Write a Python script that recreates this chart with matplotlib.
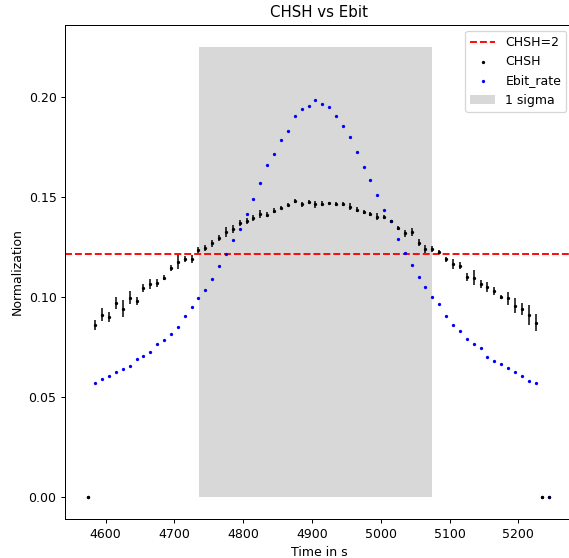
import numpy as np
import matplotlib
matplotlib.use("Agg")
import matplotlib.pyplot as plt

# time stamps (s), 10 s steps
time = np.arange(4575, 5246, 10)

chsh = [0.0,
        0.0861, 0.0911, 0.0900, 0.0968, 0.0941, 0.0995, 0.0980, 0.1045, 0.1064, 0.1070,
        0.1095, 0.1144, 0.1174, 0.1189, 0.1189, 0.1234, 0.1244, 0.1268, 0.1294, 0.1326,
        0.1341, 0.1370, 0.1380, 0.1395, 0.1413, 0.1411, 0.1431, 0.1446, 0.1462, 0.1480,
        0.1463, 0.1477, 0.1463, 0.1467, 0.1468, 0.1463, 0.1463, 0.1452, 0.1437, 0.1426,
        0.1413, 0.1401, 0.1400, 0.1378, 0.1346, 0.1318, 0.1326, 0.1271, 0.1239, 0.1239,
        0.1222, 0.1187, 0.1162, 0.1156, 0.1100, 0.1095, 0.1064, 0.1047, 0.1030, 0.1000,
        0.0992, 0.0955, 0.0938, 0.0908, 0.0871,
        0.0, 0.0]

chsh_err = [0.0,
            0.0025, 0.0033, 0.0025, 0.0030, 0.0042, 0.0033, 0.0020, 0.0020, 0.0025, 0.0020,
            0.0013, 0.0013, 0.0033, 0.0013, 0.0020, 0.0013, 0.0017, 0.0017, 0.0017, 0.0025,
            0.0020, 0.0017, 0.0013, 0.0013, 0.0020, 0.0013, 0.0013, 0.0008, 0.0007, 0.0010,
            0.0013, 0.0010, 0.0017, 0.0013, 0.0007, 0.0010, 0.0010, 0.0017, 0.0013, 0.0010,
            0.0010, 0.0017, 0.0010, 0.0008, 0.0010, 0.0017, 0.0020, 0.0017, 0.0020, 0.0017,
            0.0010, 0.0013, 0.0025, 0.0017, 0.0020, 0.0037, 0.0020, 0.0025, 0.0020, 0.0010,
            0.0033, 0.0037, 0.0030, 0.0050, 0.0042,
            0.0, 0.0]

ebit = [0.0,
        0.0567, 0.0587, 0.0605, 0.0624, 0.0639, 0.0652, 0.0687, 0.0704, 0.0722, 0.0764,
        0.0786, 0.0816, 0.0850, 0.0905, 0.0947, 0.0992, 0.1035, 0.1090, 0.1152, 0.1212,
        0.1286, 0.1339, 0.1415, 0.1492, 0.1570, 0.1661, 0.1717, 0.1786, 0.1831, 0.1906,
        0.1938, 0.1955, 0.1983, 0.1967, 0.1950, 0.1906, 0.1855, 0.1801, 0.1724, 0.1649,
        0.1587, 0.1508, 0.1433, 0.1378, 0.1289, 0.1221, 0.1159, 0.1099, 0.1050, 0.1000,
        0.0962, 0.0903, 0.0860, 0.0831, 0.0791, 0.0763, 0.0743, 0.0701, 0.0679, 0.0662,
        0.0644, 0.0622, 0.0602, 0.0579, 0.0569,
        0.0, 0.0]

chsh_limit = 0.1212
sigma_span = [4736, 5075]
sigma_height = 0.225

fig = plt.figure(figsize=(569 / 90, 558 / 90), dpi=90)
ax = fig.add_axes([65.3 / 569, 39 / 558, 507.1 / 569, 494.3 / 558])

ax.axhline(chsh_limit, color='red', linestyle='--', label='CHSH=2')
ax.errorbar(time, chsh, yerr=chsh_err, fmt='none', ecolor='black', elinewidth=1.2)
ax.scatter(time, chsh, s=7, color='black', linewidths=0, label='CHSH', zorder=3)
ax.scatter(time, ebit, s=7, color='blue', linewidths=0, label='Ebit_rate', zorder=2)
ax.fill_between(sigma_span, 0, sigma_height, color='gray', alpha=0.3,
                linewidth=0, label='1 sigma', zorder=0)

ax.set_title('CHSH vs Ebit')
ax.set_xlabel('Time in s')
ax.set_ylabel('Normalization')
ax.legend(loc='upper right')

fig.savefig('out.png', dpi=90)
